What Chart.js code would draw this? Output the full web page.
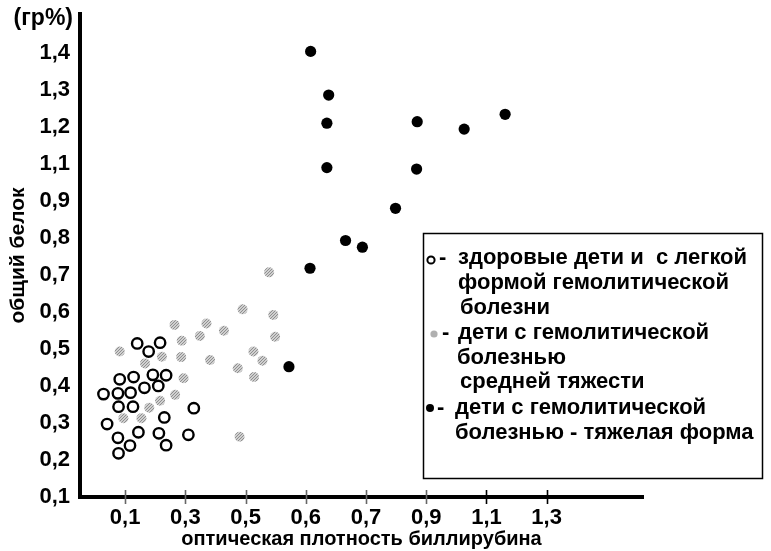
<!DOCTYPE html>
<html>
<head>
<meta charset="utf-8">
<script src="https://cdn.jsdelivr.net/npm/chart.js@4/dist/chart.umd.min.js"></script>
<style>
  html, body { margin: 0; padding: 0; background: #fff; }
  #wrap { width: 771px; height: 551px; }
</style>
</head>
<body>
<div id="wrap"><canvas id="c" width="771" height="551"></canvas></div>
<script>
// Axis tick labels (ticks are equally spaced on the printed axes)
const xTickLabels = ['0,1', '0,3', '0,5', '0,6', '0,7', '0,9', '1,1', '1,3'];
const yTickLabels = ['0,1', '0,2', '0,3', '0,4', '0,5', '0,6', '0,7', '0,8', '0,9', '1,1', '1,2', '1,3', '1,4'];
const xTitle = 'оптическая плотность биллирубина';
const yTitle = 'общий белок';
const yUnit = '(гр%)';

// Point positions, expressed in tick steps along each axis (0 = first tick label)
const healthyX = [0.20, 0.39, 0.58, -0.09, 0.14, 0.46, 0.68, 0.55, 0.32, -0.36, -0.12, 0.09, -0.11, 0.13, 1.14, -0.30, 0.65, -0.12, 0.22, 0.56, 1.05, 0.08, 0.68, -0.11];
const healthyY = [4.15, 3.93, 4.17, 3.18, 3.24, 3.30, 3.29, 3.00, 2.95, 2.78, 2.80, 2.82, 2.44, 2.44, 2.40, 1.97, 2.15, 1.60, 1.75, 1.72, 1.68, 1.39, 1.40, 1.18];

const mediumX = [1.95, 2.46, 0.82, 1.35, 1.64, 0.94, 1.24, 2.49, -0.09, 0.61, 0.93, 1.41, 2.13, 2.28, 1.87, 2.14, 0.33, 0.97, 0.83, 0.58, 0.40, -0.03, 0.27, 1.90, 2.39];
const mediumY = [5.07, 4.92, 4.65, 4.69, 4.49, 4.22, 4.35, 4.33, 3.93, 3.79, 3.78, 3.70, 3.93, 3.68, 3.48, 3.24, 3.61, 3.21, 2.76, 2.60, 2.41, 2.13, 2.13, 1.63, 6.07];

const severeX = [3.08, 3.38, 3.35, 4.85, 5.63, 6.31, 3.35, 4.84, 4.49, 3.66, 3.94, 3.07, 2.72];
const severeY = [12.04, 10.86, 10.10, 10.14, 9.94, 10.34, 8.90, 8.86, 7.80, 6.93, 6.75, 6.18, 3.52];

const legendLines = [
  'здоровые дети и  с легкой',
  'формой гемолитической',
  'болезни',
  'дети с гемолитической',
  'болезнью',
  'средней тяжести',
  'дети с гемолитической',
  'болезнью - тяжелая форма'
];

const FONT = '"Liberation Sans", Arial, sans-serif';

function toPoints(xs, ys) { return xs.map((x, i) => ({ x: x, y: ys[i] })); }

// halftone-like grey fill for the medium group
function greyPattern() {
  const pc = document.createElement('canvas');
  pc.width = 3; pc.height = 3;
  const g = pc.getContext('2d');
  g.fillStyle = '#d0d0d0'; g.fillRect(0, 0, 3, 3);
  g.fillStyle = '#8f8f8f';
  g.fillRect(0, 0, 1, 1); g.fillRect(2, 1, 1, 1); g.fillRect(1, 2, 1, 1);
  return g.createPattern(pc, 'repeat');
}
const greyFill = greyPattern();

const decorPlugin = {
  id: 'decor',
  afterDraw(chart) {
    const ctx = chart.ctx;
    const xs = chart.scales.x;
    const axisY = chart.chartArea.bottom;
    ctx.save();
    // tick marks crossing the x axis
    ctx.lineWidth = 1.6;
    xTickLabels.forEach((_, i) => {
      const px = Math.round(xs.getPixelForValue(i)) + 0.5;
      ctx.strokeStyle = i >= 6 ? '#000' : '#666';
      ctx.beginPath();
      ctx.moveTo(px, axisY - 7);
      ctx.lineTo(px, axisY + 7);
      ctx.stroke();
    });

    // unit label above the y axis
    ctx.font = 'bold 23px ' + FONT;
    ctx.fillStyle = '#000';
    ctx.textAlign = 'right';
    ctx.textBaseline = 'middle';
    ctx.fillText(yUnit, 73, 19);

    // legend box
    ctx.fillStyle = '#fff';
    ctx.fillRect(424.5, 234.5, 337, 243);
    ctx.strokeStyle = '#000';
    ctx.lineWidth = 1.5;
    ctx.strokeRect(423.5, 233.5, 339, 245);

    ctx.fillStyle = '#000';
    ctx.textAlign = 'left';
    ctx.font = 'bold 22px ' + FONT;
    const ys = [258, 283, 308, 333, 358, 382, 408, 433];
    const lx = [458, 458, 460, 458, 457, 460, 455, 455];
    legendLines.forEach((t, i) => ctx.fillText(t, lx[i], ys[i]));
    // dashes
    ctx.fillText('-', 439, 258);
    ctx.fillText('-', 442, 333);
    ctx.fillText('-', 437, 408);
    // markers
    ctx.beginPath();
    ctx.lineWidth = 2;
    ctx.strokeStyle = '#000';
    ctx.arc(431, 260, 3.6, 0, Math.PI * 2);
    ctx.stroke();
    ctx.beginPath();
    ctx.fillStyle = '#b0b0b0';
    ctx.arc(434, 334, 3.6, 0, Math.PI * 2);
    ctx.fill();
    ctx.beginPath();
    ctx.fillStyle = '#000';
    ctx.arc(430, 408, 4, 0, Math.PI * 2);
    ctx.fill();
    ctx.restore();
  }
};

new Chart(document.getElementById('c'), {
  type: 'scatter',
  data: {
    datasets: [
      {
        label: 'здоровые дети и с легкой формой гемолитической болезни',
        data: toPoints(healthyX, healthyY),
        pointStyle: 'circle',
        pointRadius: 5.2,
        borderWidth: 2.4,
        borderColor: '#000',
        backgroundColor: 'rgba(255,255,255,0)'
      },
      {
        label: 'дети с гемолитической болезнью средней тяжести',
        data: toPoints(mediumX, mediumY),
        pointStyle: 'circle',
        pointRadius: 5,
        borderWidth: 0,
        backgroundColor: greyFill
      },
      {
        label: 'дети с гемолитической болезнью - тяжелая форма',
        data: toPoints(severeX, severeY),
        pointStyle: 'circle',
        pointRadius: 5.6,
        borderWidth: 0,
        backgroundColor: '#000'
      }
    ]
  },
  options: {
    responsive: false,
    animation: false,
    devicePixelRatio: 1,
    layout: { padding: { left: 0, top: 14, right: 128, bottom: 0 } },
    plugins: { legend: { display: false }, tooltip: { enabled: false } },
    scales: {
      x: {
        type: 'linear',
        min: -0.75,
        max: 8.6,
        afterBuildTicks: sc => { sc.ticks = xTickLabels.map((_, i) => ({ value: i })); },
        afterFit: sc => { sc.height = 54; sc.paddingLeft = 0; sc.paddingRight = 0; },
        ticks: {
          autoSkip: false,
          maxRotation: 0,
          padding: 1,
          color: '#000',
          font: { family: FONT, size: 22, weight: 'bold' },
          callback: v => xTickLabels[v]
        },
        grid: { display: false, drawOnChartArea: false, drawTicks: true, tickLength: 7 },
        border: { display: true, color: '#000', width: 4 },
        title: { display: true, text: xTitle, color: '#000', font: { family: FONT, size: 20, weight: 'bold' }, padding: { top: 0, bottom: 0 } }
      },
      y: {
        type: 'linear',
        min: 0,
        max: 13.05,
        afterBuildTicks: sc => { sc.ticks = yTickLabels.map((_, i) => ({ value: i })); },
        afterFit: sc => { sc.width = 80; sc.paddingTop = 0; sc.paddingBottom = 0; },
        ticks: {
          autoSkip: false,
          padding: 10,
          color: '#000',
          font: { family: FONT, size: 22, weight: 'bold' },
          callback: v => yTickLabels[v]
        },
        grid: { display: false, drawTicks: false },
        border: { display: true, color: '#000', width: 4 },
        title: { display: true, text: yTitle, color: '#000', font: { family: FONT, size: 21, weight: 'bold' }, padding: { top: 6, bottom: 0 } }
      }
    }
  },
  plugins: [decorPlugin]
});
</script>
</body>
</html>
